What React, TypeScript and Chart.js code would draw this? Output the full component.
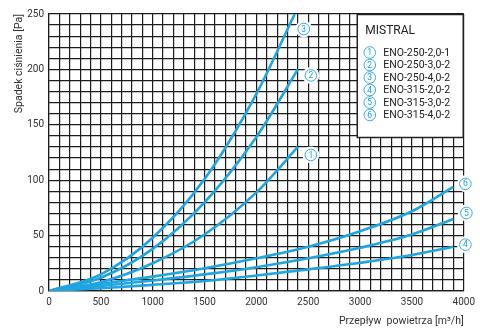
import React, { useEffect, useRef } from "react";
import { Chart, registerables } from "chart.js";
Chart.register(...registerables);

// ---- data ----
const seriesNames = [
  "ENO-250-2,0-1",
  "ENO-250-3,0-2",
  "ENO-250-4,0-2",
  "ENO-315-2,0-2",
  "ENO-315-3,0-2",
  "ENO-315-4,0-2",
];
const legendTitle = "MISTRAL";

const flow250_20 = [0, 500, 1000, 1500, 2000, 2400];
const dp250_20 = [0, 8, 25, 51, 89, 130];
const flow250_30 = [0, 500, 1000, 1500, 2000, 2400];
const dp250_30 = [0, 12, 38, 80, 139, 200];
const flow250_40 = [0, 500, 1000, 1500, 2000, 2370];
const dp250_40 = [0, 15, 48, 101, 178, 250];
const flow315 = [0, 500, 1000, 1500, 2000, 2500, 3000, 3500, 3900];
const dp315_20 = [0, 2.5, 5.5, 9, 14, 19.5, 25.5, 32.5, 40];
const dp315_30 = [0, 4.5, 9.5, 15, 21.5, 29.5, 39, 51, 65];
const dp315_40 = [0, 6.5, 13, 20.5, 29.5, 40, 54, 72, 94];

const seriesFlows = [flow250_20, flow250_30, flow250_40, flow315, flow315, flow315];
const seriesValues = [dp250_20, dp250_30, dp250_40, dp315_20, dp315_30, dp315_40];

const xMin = 0, xMax = 4000, xStep = 100, xLabelEvery = 500;
const yMin = 0, yMax = 250, yStep = 10, yLabelEvery = 50;
const xTitle = "Przepływ  powietrza [m³/h]";
const yTitle = "Spadek ciśnienia [Pa]";

// ---- styles ----
const BLUE = "#1ea5e2";
const GRID = "#1c1c1c";
const TEXT = "#333";
const FONT = "Roboto, 'Noto Sans', sans-serif";
// label offsets from curve end (px)
const endLabelOffsets = [
  [13, 8],
  [13, 6],
  [9, 15],
  [12, -2],
  [13, -6],
  [12, -3],
];

function circled(ctx: CanvasRenderingContext2D, cx: number, cy: number, n: number) {
  ctx.save();
  ctx.strokeStyle = BLUE;
  ctx.lineWidth = 0.9;
  ctx.beginPath();
  ctx.arc(cx, cy, 5.8, 0, Math.PI * 2);
  ctx.stroke();
  ctx.fillStyle = BLUE;
  ctx.font = `8.5px ${FONT}`;
  ctx.textAlign = "center";
  ctx.textBaseline = "middle";
  ctx.fillText(String(n), cx, cy + 0.5);
  ctx.restore();
}

const overlayPlugin = {
  id: "overlay",
  afterDatasetsDraw(chart: any) {
    const ctx: CanvasRenderingContext2D = chart.ctx;
    // curve end labels
    chart.data.datasets.forEach((_: any, i: number) => {
      const meta = chart.getDatasetMeta(i);
      const pt = meta.data[meta.data.length - 1];
      const [dx, dy] = endLabelOffsets[i];
      const cx = pt.x + dx, cy = pt.y + dy;
      ctx.save();
      ctx.fillStyle = "#fff";
      ctx.beginPath();
      ctx.arc(cx, cy, 8.5, 0, Math.PI * 2);
      ctx.fill();
      ctx.restore();
      circled(ctx, cx, cy, i + 1);
    });
    // legend box
    const area = chart.chartArea;
    const bx = area.right - 106.5, by = area.top + 0.5, bw = 106, bh = 123;
    ctx.save();
    ctx.fillStyle = "#fff";
    ctx.fillRect(bx, by, bw, bh);
    ctx.strokeStyle = "#222";
    ctx.lineWidth = 1.5;
    ctx.strokeRect(bx, by, bw, bh);
    ctx.fillStyle = "#222";
    ctx.font = `12px ${FONT}`;
    ctx.textBaseline = "middle";
    ctx.textAlign = "left";
    ctx.fillText(legendTitle, bx + 8, by + 16.5);
    ctx.font = `10.5px ${FONT}`;
    seriesNames.forEach((name, i) => {
      const y = by + 38 + i * 12.5;
      circled(ctx, bx + 12.5, y, i + 1);
      ctx.fillStyle = "#222";
      ctx.fillText(name, bx + 26, y + 0.5);
    });
    ctx.restore();
  },
};

export default function App() {
  const ref = useRef<HTMLCanvasElement>(null);
  useEffect(() => {
    document.body.style.margin = "0";
    const canvas = ref.current!;
    const chart = new Chart(canvas, {
      type: "line",
      data: {
        datasets: seriesValues.map((vals, i) => ({
          label: seriesNames[i],
          data: vals.map((v, j) => ({ x: seriesFlows[i][j], y: v })),
          borderColor: BLUE,
          borderWidth: 2.6,
          pointRadius: 0,
          fill: false,
          cubicInterpolationMode: "monotone" as const,
        })),
      },
      options: {
        animation: false,
        responsive: false,
        devicePixelRatio: 1,
        layout: { padding: { top: 14, right: 13, left: 0, bottom: 0 } },
        plugins: { legend: { display: false }, tooltip: { enabled: false } },
        scales: {
          x: {
            type: "linear",
            min: xMin,
            max: xMax,
            afterFit: (s: any) => { s.height = 37; },
            ticks: {
              stepSize: xStep,
              autoSkip: false,
              maxRotation: 0,
              padding: 5,
              color: TEXT,
              font: { family: FONT, size: 10 },
              callback: (v: any) => (Number(v) % xLabelEvery === 0 ? String(v) : ""),
            },
            grid: { color: GRID, lineWidth: 1.2, drawTicks: false },
            border: { color: GRID, width: 1.2 },
            title: {
              display: true,
              text: xTitle,
              align: "end",
              color: TEXT,
              font: { family: FONT, size: 10.5 },
              padding: { top: 0, bottom: 0 },
            },
          },
          y: {
            type: "linear",
            min: yMin,
            max: yMax,
            afterFit: (s: any) => { s.width = 49; },
            ticks: {
              stepSize: yStep,
              autoSkip: false,
              padding: 5,
              color: TEXT,
              font: { family: FONT, size: 10 },
              callback: (v: any) => (Number(v) % yLabelEvery === 0 ? String(v) : ""),
            },
            grid: { color: GRID, lineWidth: 1.2, drawTicks: false },
            border: { color: GRID, width: 1.2 },
            title: {
              display: true,
              text: yTitle,
              align: "end",
              color: TEXT,
              font: { family: FONT, size: 10.5 },
              padding: { top: 13, bottom: 0 },
            },
          },
        },
      },
      plugins: [overlayPlugin],
    });
    return () => chart.destroy();
  }, []);
  return (
    <div style={{ width: 480, height: 328 }}>
      <canvas ref={ref} width={480} height={328} style={{ display: "block" }} />
    </div>
  );
}
